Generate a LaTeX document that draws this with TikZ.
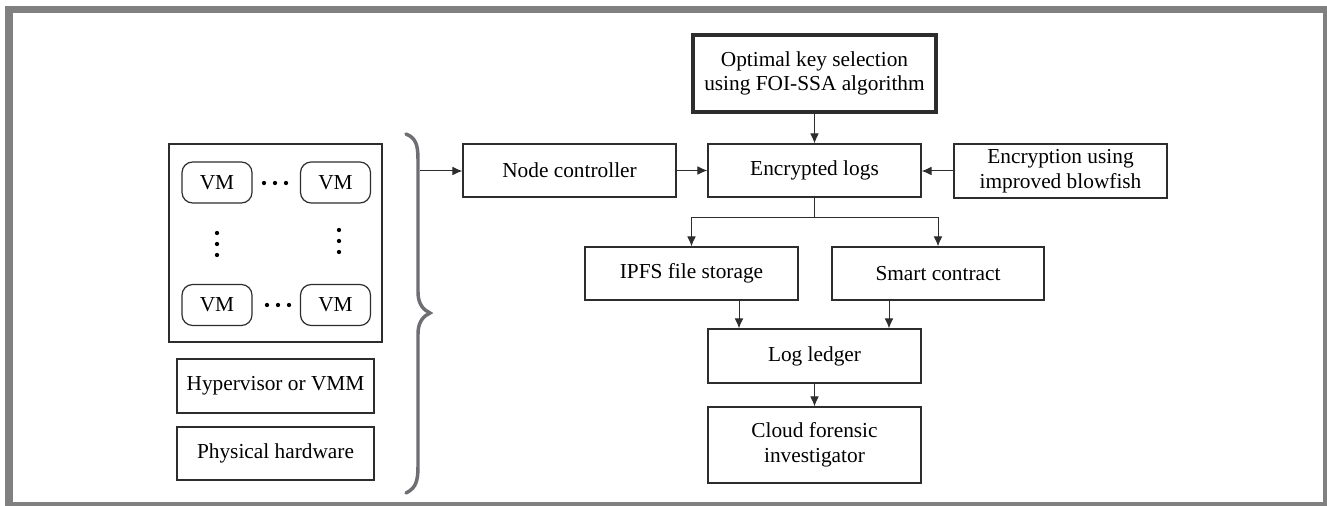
\documentclass[tikz,border=0pt]{standalone}
\usepackage{fontspec}
\setmainfont{Liberation Serif}
\usetikzlibrary{arrows.meta,calc}
\definecolor{framegray}{RGB}{128,128,128}
\definecolor{linegray}{RGB}{45,45,45}
\definecolor{bracegray}{RGB}{110,110,115}
\tikzset{
  box/.style={draw=linegray, line width=0.9pt, inner sep=0pt, align=center, font=\fontsize{16pt}{18.5pt}\selectfont},
  vmbox/.style={box, rounded corners=8pt, minimum width=52.5pt, minimum height=30.75pt},
  arr/.style={draw=linegray, line width=0.75pt, -{Latex[length=7.5pt,width=6.5pt]}},
  plain/.style={draw=linegray, line width=0.75pt},
  dot/.style={fill=black, circle, inner sep=0pt, minimum size=3.2pt}
}
\begin{document}
\begin{tikzpicture}[x=0.75pt,y=-0.75pt]
\useasboundingbox (0,0) rectangle (1327,506);
% frame
\fill[framegray] (5,6) rectangle (1327,506);
\fill[white] (13,13) rectangle (1323,502);

% left stack
\node[box, minimum width=159.75pt, minimum height=148.5pt] (vmouter) at (275.5,243) {};
\node[vmbox] (vm1) at (217,182.5) {VM};
\node[vmbox] (vm2) at (335.5,182.5) {VM};
\node[vmbox] (vm3) at (217,305) {VM};
\node[vmbox] (vm4) at (335.5,305) {VM};
\foreach \x in {264,275,286} \node[dot] at (\x,183) {};
\foreach \x in {267,278,289} \node[dot] at (\x,305) {};
\foreach \y in {233,244,255} \node[dot] at (217,\y) {};
\foreach \y in {230,241,252} \node[dot] at (339,\y) {};
\node[box, minimum width=147.75pt, minimum height=40.5pt] (hyp) at (275.5,386) {Hypervisor or VMM};
\node[box, minimum width=147.75pt, minimum height=39.75pt] (phys) at (275.5,453.5) {Physical hardware};

% brace
\draw[bracegray, line width=2.6pt, line cap=round]
  (406,134) .. controls (416,138) and (418,145) .. (418,160)
  -- (418,292) .. controls (418,305) and (424,310) .. (430,313)
  .. controls (424,316) and (418,321) .. (418,334)
  -- (418,466) .. controls (418,481) and (416,488) .. (406,493);
\coordinate (bs) at (420,171);

% right part
\node[box, line width=2.4pt, minimum width=182.25pt, minimum height=57.75pt] (opt) at (814.5,73.5) {Optimal key selection\\using FOI-SSA algorithm};
\node[box, minimum width=159.75pt, minimum height=39.75pt] (nc) at (569.5,170.5) {Node controller};
\node[box, minimum width=159.75pt, minimum height=39.75pt] (el) at (814.5,170.5) {Encrypted logs};
\node[box, minimum width=159.75pt, minimum height=40.5pt] (enc) at (1060.5,171) {Encryption using\\improved blowfish};
\node[box, minimum width=159.75pt, minimum height=39.75pt] (ipfs) at (691.5,273.5) {IPFS file storage};
\node[box, minimum width=159pt, minimum height=39.75pt] (sc) at (938,273.5) {Smart contract};
\node[box, minimum width=159.75pt, minimum height=40.5pt] (ll) at (814.5,356) {Log ledger};
\node[box, minimum width=159.75pt, minimum height=57pt] (cf) at (814.5,445) {Cloud forensic\\investigator};

\draw[arr] (bs) -- (nc.west |- bs);
\draw[arr] (nc.east) -- (el.west);
\draw[arr] (opt.south) -- (el.north);
\draw[arr] (enc.west) -- (el.east |- enc.west);
\coordinate (br) at (814.5,217);
\draw[plain] (el.south) -- (br);
\draw[arr] (br) -| (ipfs.north);
\draw[arr] (br) -| (sc.north);
\draw[arr] (ipfs.south -| 739,0) -- (ll.north -| 739,0);
\draw[arr] (sc.south -| 889,0) -- (ll.north -| 889,0);
\draw[arr] (ll.south) -- (cf.north);
\end{tikzpicture}
\end{document}
